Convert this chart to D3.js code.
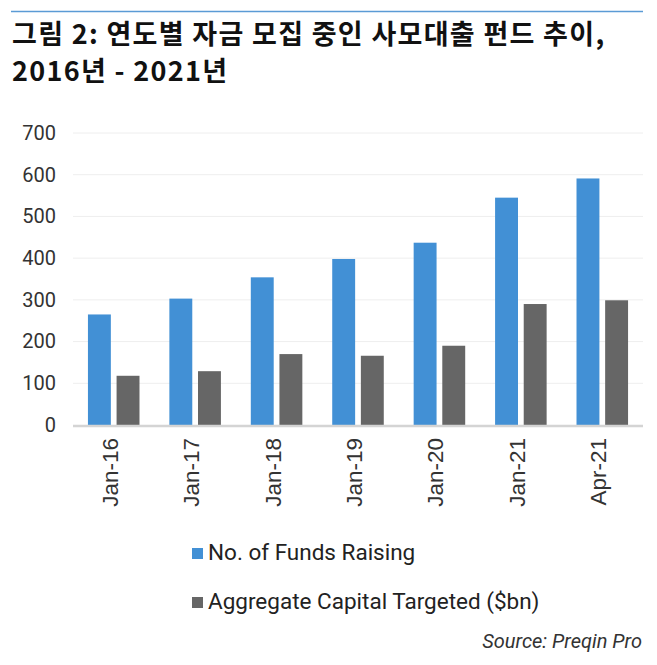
<!DOCTYPE html>
<html>
<head>
<meta charset="utf-8">
<script src="https://cdn.jsdelivr.net/npm/d3@7"></script>
<style>
  body { margin: 0; background: #fff; }
</style>
</head>
<body>
<div id="chart"></div>
<script>
// Chart data
const categories = ["Jan-16", "Jan-17", "Jan-18", "Jan-19", "Jan-20", "Jan-21", "Apr-21"];
const fundsRaising = [265, 303, 354, 398, 437, 545, 591];
const capitalTargeted = [118, 129, 170, 166, 190, 290, 299];
const seriesNames = ["No. of Funds Raising", "Aggregate Capital Targeted ($bn)"];
const yTicks = [0, 100, 200, 300, 400, 500, 600, 700];

const W = 657, H = 665;
const colors = ["#4290d5", "#666666"];

const svg = d3.select("#chart").append("svg")
  .attr("width", W)
  .attr("height", H);

// Title with top rule
svg.append("line")
  .attr("x1", 11).attr("x2", 643)
  .attr("y1", 11.5).attr("y2", 11.5)
  .attr("stroke", "#5b9bd5")
  .attr("stroke-width", 1.5);

const title = svg.append("text")
  .attr("font-family", "'Noto Sans CJK KR', sans-serif")
  .attr("font-weight", "bold")
  .attr("font-size", "27px")
  .attr("letter-spacing", "1.3px")
  .attr("fill", "#111");
title.append("tspan").attr("x", 12).attr("y", 44).text("그림 2: 연도별 자금 모집 중인 사모대출 펀드 추이,");
title.append("tspan").attr("x", 12).attr("y", 81).text("2016년 - 2021년");

// Scales
const x0 = d3.scaleBand()
  .domain(categories)
  .range([73, 643])
  .paddingInner(0.367)
  .paddingOuter(0.1835);

const x1 = d3.scaleBand()
  .domain([0, 1])
  .range([0, x0.bandwidth()])
  .paddingInner(0.2);

const y = d3.scaleLinear()
  .domain([0, 700])
  .range([425, 133]);

// Gridlines
svg.append("g")
  .selectAll("line")
  .data(yTicks.filter(d => d > 0))
  .enter().append("line")
  .attr("x1", 73).attr("x2", 643)
  .attr("y1", d => y(d)).attr("y2", d => y(d))
  .attr("stroke", "#eeeeee")
  .attr("stroke-width", 1);

// Y axis labels
const yAxis = svg.append("g")
  .attr("transform", "translate(56,0)")
  .call(d3.axisLeft(y).tickValues(yTicks).tickSize(0).tickPadding(0));
yAxis.select(".domain").remove();
yAxis.selectAll("text")
  .attr("font-family", "Roboto, sans-serif")
  .attr("font-size", "20px")
  .attr("fill", "#333");

// Bars
const series = [fundsRaising, capitalTargeted];
series.forEach((vals, si) => {
  svg.append("g")
    .selectAll("rect")
    .data(vals)
    .enter().append("rect")
    .attr("x", (d, i) => x0(categories[i]) + x1(si))
    .attr("width", x1.bandwidth())
    .attr("y", d => y(d))
    .attr("height", d => y(0) - y(d))
    .attr("fill", colors[si]);
});

// Baseline
svg.append("line")
  .attr("x1", 73).attr("x2", 643)
  .attr("y1", y(0) + 1).attr("y2", y(0) + 1)
  .attr("stroke", "#d4d4d4")
  .attr("stroke-width", 2.5);

// X labels, rotated
svg.append("g")
  .selectAll("text")
  .data(categories)
  .enter().append("text")
  .attr("transform", d => `translate(${x0(d) + x0.bandwidth() / 2 + 4},438) rotate(-90)`)
  .attr("text-anchor", "end")
  .attr("font-family", "'Liberation Sans', Arial, sans-serif")
  .attr("font-size", "22.5px")
  .attr("fill", "#333")
  .text(d => d);

// Legend
const legend = svg.append("g");
seriesNames.forEach((name, i) => {
  const g = legend.append("g").attr("transform", `translate(192, ${548 + i * 49})`);
  g.append("rect")
    .attr("width", 11)
    .attr("height", 11)
    .attr("fill", colors[i]);
  g.append("text")
    .attr("x", 16)
    .attr("y", 12)
    .attr("font-family", "Roboto, sans-serif")
    .attr("font-size", "22.5px")
    .attr("fill", "#222")
    .text(name);
});

// Source
svg.append("text")
  .attr("x", 642)
  .attr("y", 648)
  .attr("text-anchor", "end")
  .attr("font-family", "Roboto, sans-serif")
  .attr("font-style", "italic")
  .attr("font-size", "20px")
  .attr("fill", "#333")
  .text("Source: Preqin Pro");
</script>
</body>
</html>
